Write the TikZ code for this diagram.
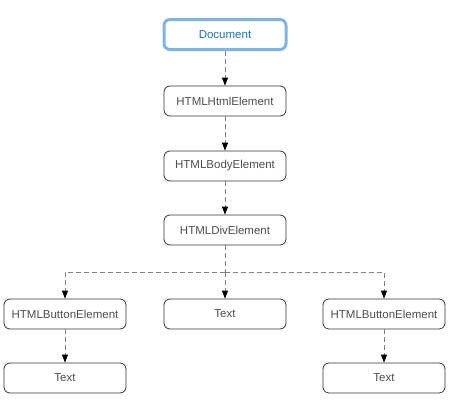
\documentclass[tikz,border=0pt]{standalone}
\usepackage{fontspec}
\setmainfont{Liberation Sans}
\usetikzlibrary{arrows.meta}
\definecolor{txt}{HTML}{4D4D4D}
\definecolor{docblue}{HTML}{1F6FB0}
\definecolor{docborder}{HTML}{7DB4E2}
\definecolor{conncol}{HTML}{808080}
\tikzset{
  box/.style={draw=black!80, line width=0.8pt, rounded corners=6pt, minimum width=122pt, minimum height=30pt, inner sep=0pt, text=txt, font=\fontsize{11.5}{13}\selectfont},
  docbox/.style={box, draw=docborder, line width=3pt, text=docblue},
  conn/.style={draw=conncol, line width=0.8pt, dash pattern=on 5pt off 3pt, -{Triangle[width=6pt,length=8pt,fill=black,color=black]}},
  plain/.style={draw=conncol, line width=0.8pt, dash pattern=on 5pt off 3pt}
}
\begin{document}
\begin{tikzpicture}[x=1pt,y=-1pt]
\useasboundingbox (0,0) rectangle (450,415);
\node[docbox] (doc) at (225,34.5) {Document};
\node[box] (html) at (225,101) {HTMLHtmlElement};
\node[box] (body) at (225,166) {HTMLBodyElement};
\node[box] (div) at (225,230) {HTMLDivElement};
\node[box] (b1) at (65,314) {HTMLButtonElement};
\node[box] (t2) at (225,314) {Text};
\node[box] (b3) at (384,314) {HTMLButtonElement};
\node[box] (t1) at (65,378) {Text};
\node[box] (t3) at (384,378) {Text};
\coordinate (bus) at (225,272);
\draw[conn] (doc.south) -- (html.north);
\draw[conn] (html.south) -- (body.north);
\draw[conn] (body.south) -- (div.north);
\draw[plain] (div.south) -- (bus);
\draw[conn] (bus) -| (b1.north);
\draw[conn] (bus) -- (t2.north);
\draw[conn] (bus) -| (b3.north);
\draw[conn] (b1.south) -- (t1.north);
\draw[conn] (b3.south) -- (t3.north);
\end{tikzpicture}
\end{document}
